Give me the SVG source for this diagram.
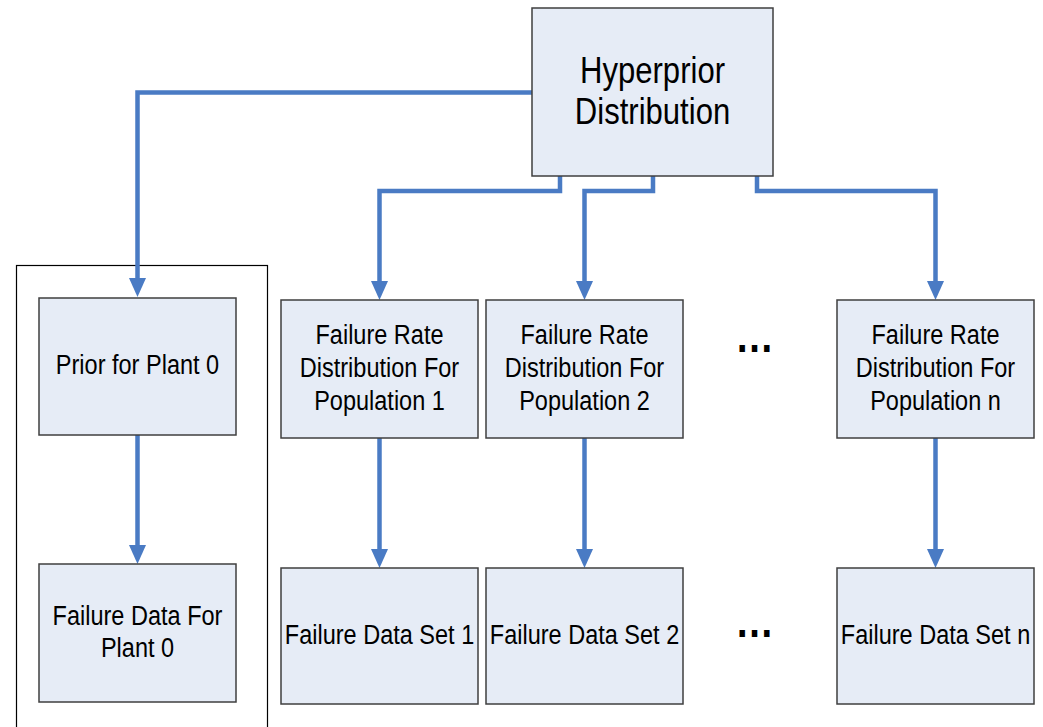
<svg xmlns="http://www.w3.org/2000/svg" width="1043" height="727" viewBox="0 0 1043 727">
  <style>
    .box { fill: #E6ECF6; stroke: #3F3F3F; stroke-width: 1.5; }
    .frame { fill: none; stroke: #000000; stroke-width: 1.2; }
    .conn { fill: none; stroke: #4A7BC4; stroke-width: 4.5; stroke-linejoin: miter; }
    .lbl { font-family: "Liberation Sans", Arial, sans-serif; font-size: 28px; fill: #000000; text-anchor: middle; }
    .big { font-size: 37px; }
    .dots { font-size: 46px; font-weight: bold; }
  </style>
  <defs>
    <marker id="arrow" viewBox="0 0 19 17" refX="0" refY="8.5" markerWidth="19" markerHeight="17" markerUnits="userSpaceOnUse" orient="auto">
      <path d="M0,0 L19,8.5 L0,17 Z" fill="#4A7BC4"/>
    </marker>
  </defs>
  <rect width="1043" height="727" fill="#FFFFFF"/>

  <!-- frame around the plant 0 column -->
  <rect class="frame" x="16.5" y="265.5" width="251" height="480"/>

  <!-- connectors -->
  <g id="connectors">
    <path class="conn" d="M532,92.5 H137.5 V278" marker-end="url(#arrow)"/>
    <path class="conn" d="M560,176 V191 H379.5 V281" marker-end="url(#arrow)"/>
    <path class="conn" d="M653,176 V191 H584.5 V281" marker-end="url(#arrow)"/>
    <path class="conn" d="M757,176 V191 H935.5 V281" marker-end="url(#arrow)"/>
    <path class="conn" d="M137.5,435 V545" marker-end="url(#arrow)"/>
    <path class="conn" d="M379.5,438 V549" marker-end="url(#arrow)"/>
    <path class="conn" d="M584.5,438 V549" marker-end="url(#arrow)"/>
    <path class="conn" d="M935.5,438 V549" marker-end="url(#arrow)"/>
  </g>

  <g id="hyperprior">
    <rect class="box" x="532" y="8" width="241" height="168"/>
    <text class="lbl big" transform="translate(652.5 83) scale(0.84 1)"><tspan x="0" y="0">Hyperprior</tspan><tspan x="0" dy="41">Distribution</tspan></text>
  </g>

  <g id="prior-plant0">
    <rect class="box" x="39" y="298" width="197" height="137"/>
    <text class="lbl" transform="translate(137.5 374) scale(0.84 1)">Prior for Plant 0</text>
  </g>

  <g id="data-plant0">
    <rect class="box" x="39" y="564" width="197" height="138"/>
    <text class="lbl" transform="translate(137.5 625) scale(0.84 1)"><tspan x="0" y="0">Failure Data For</tspan><tspan x="0" dy="32">Plant 0</tspan></text>
  </g>

  <g id="rate-pop1">
    <rect class="box" x="281" y="300" width="197" height="138"/>
    <text class="lbl" transform="translate(379.5 344) scale(0.84 1)"><tspan x="0" y="0">Failure Rate</tspan><tspan x="0" dy="33">Distribution For</tspan><tspan x="0" dy="33">Population 1</tspan></text>
  </g>

  <g id="rate-pop2">
    <rect class="box" x="486" y="300" width="197" height="138"/>
    <text class="lbl" transform="translate(584.5 344) scale(0.84 1)"><tspan x="0" y="0">Failure Rate</tspan><tspan x="0" dy="33">Distribution For</tspan><tspan x="0" dy="33">Population 2</tspan></text>
  </g>

  <g id="rate-popn">
    <rect class="box" x="837" y="300" width="197" height="138"/>
    <text class="lbl" transform="translate(935.5 344) scale(0.84 1)"><tspan x="0" y="0">Failure Rate</tspan><tspan x="0" dy="33">Distribution For</tspan><tspan x="0" dy="33">Population n</tspan></text>
  </g>

  <g id="data-set1">
    <rect class="box" x="281" y="568" width="197" height="136"/>
    <text class="lbl" transform="translate(379.5 644) scale(0.84 1)">Failure Data Set 1</text>
  </g>

  <g id="data-set2">
    <rect class="box" x="486" y="568" width="197" height="136"/>
    <text class="lbl" transform="translate(584.5 644) scale(0.84 1)">Failure Data Set 2</text>
  </g>

  <g id="data-setn">
    <rect class="box" x="837" y="568" width="197" height="136"/>
    <text class="lbl" transform="translate(935.5 644) scale(0.84 1)">Failure Data Set n</text>
  </g>

  <!-- ellipses between populations -->
  <text class="lbl dots" transform="translate(754.5 352) scale(0.84 1)">…</text>
  <text class="lbl dots" transform="translate(754.5 637) scale(0.84 1)">…</text>
</svg>
